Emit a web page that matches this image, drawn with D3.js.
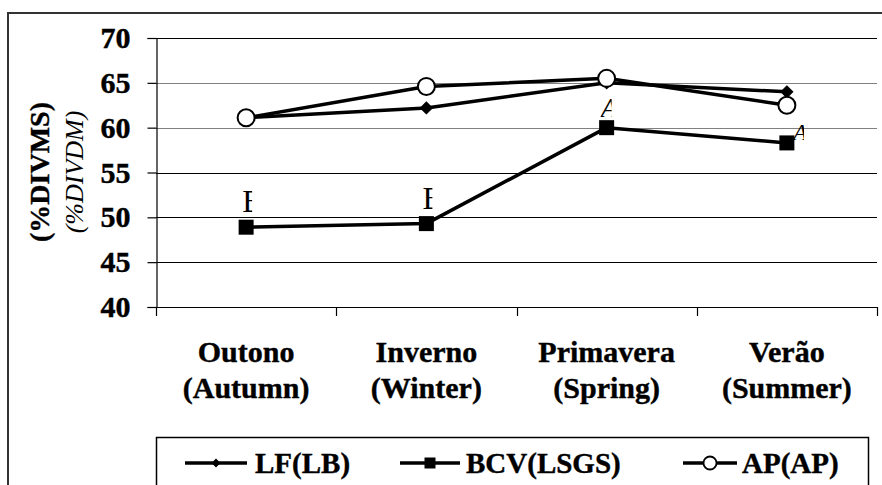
<!DOCTYPE html>
<html>
<head>
<meta charset="utf-8">
<script src="https://cdn.jsdelivr.net/npm/d3@7"></script>
<style>
html,body{margin:0;padding:0;background:#fff;}
svg{display:block;}
</style>
</head>
<body>
<svg id="chart" width="882" height="485" font-family="Liberation Serif, Times New Roman, serif"></svg>
<script>
const categories = ["Outono", "Inverno", "Primavera", "Verão"];
const categoriesEn = ["(Autumn)", "(Winter)", "(Spring)", "(Summer)"];
const lfValues = [61.1, 62.2, 65.0, 64.0];
const bcvValues = [48.9, 49.3, 60.0, 58.3];
const apValues = [61.1, 64.6, 65.5, 62.5];
const bcvLetters = ["B", "B", "A", "A"];
const yTicks = [40, 45, 50, 55, 60, 65, 70];
const seriesNames = ["LF(LB)", "BCV(LSGS)", "AP(AP)"];

const FONT = "Liberation Serif";
const svg = d3.select("#chart");
const W = 882, H = 485;
const plot = {left: 156, right: 877, top: 38, bottom: 307};

// outer frame
svg.append("rect").attr("x", 8).attr("y", 13).attr("width", W + 20).attr("height", H + 20)
  .attr("fill", "none").attr("stroke", "#333").attr("stroke-width", 2);

const x = d3.scaleBand().domain(categories).range([plot.left, plot.right]).padding(0);
const y = d3.scaleLinear().domain([40, 70]).range([plot.bottom, plot.top]);
const cx = c => x(c) + x.bandwidth() / 2;

// gridlines
svg.append("g").selectAll("line").data(yTicks.filter(t => t > 40)).join("line")
  .attr("x1", plot.left).attr("x2", plot.right)
  .attr("y1", d => Math.round(y(d)) + 0.5).attr("y2", d => Math.round(y(d)) + 0.5)
  .attr("stroke", d => (d === 65 || d === 60) ? "#808080" : "#000")
  .attr("stroke-width", 1.2);

// y axis
const yAxis = d3.axisLeft(y).tickValues(yTicks).tickSize(9).tickPadding(17).tickFormat(d3.format("d"));
const gy = svg.append("g").attr("transform", `translate(${plot.left + 0.5},0)`).call(yAxis)
  .attr("font-family", FONT);
gy.select(".domain").attr("stroke", "#000").attr("stroke-width", 1.2);
gy.selectAll(".tick line").attr("stroke", "#000").attr("stroke-width", 1.2);
gy.selectAll(".tick text").style("font-family", FONT)
  .attr("font-size", 30).attr("font-weight", "bold").attr("fill", "#000")
  .attr("stroke", "#000").attr("stroke-width", 0.4);

// x axis line and boundary ticks
const gx = svg.append("g");
gx.append("line").attr("x1", plot.left).attr("x2", plot.right)
  .attr("y1", plot.bottom + 0.5).attr("y2", plot.bottom + 0.5).attr("stroke", "#000").attr("stroke-width", 1.2);
const bounds = categories.map(c => x(c)).concat([plot.right]);
gx.selectAll("line.tk").data(bounds).join("line").attr("class", "tk")
  .attr("x1", d => Math.round(d) + 0.5).attr("x2", d => Math.round(d) + 0.5)
  .attr("y1", plot.bottom).attr("y2", plot.bottom + 9).attr("stroke", "#000").attr("stroke-width", 1.2);

// category labels
categories.forEach((c, i) => {
  const t = svg.append("text").attr("x", cx(c)).attr("text-anchor", "middle").style("font-family", FONT)
    .attr("font-size", 30).attr("font-weight", "bold").attr("fill", "#000")
    .attr("stroke", "#000").attr("stroke-width", 0.4);
  t.append("tspan").attr("x", cx(c)).attr("y", 362).text(c);
  t.append("tspan").attr("x", cx(c)).attr("y", 398).text(categoriesEn[i]);
});

// y axis titles
svg.append("text").attr("transform", "translate(49,172) rotate(-90)").style("font-family", FONT)
  .attr("text-anchor", "middle").attr("font-size", 28).attr("font-weight", "bold")
  .attr("stroke", "#000").attr("stroke-width", 0.4).text("(%DIVMS)");
svg.append("text").attr("transform", "translate(83,172) rotate(-90)").style("font-family", FONT)
  .attr("text-anchor", "middle").attr("font-size", 26).attr("font-style", "italic").text("(%DIVDM)");

// lines
const line = d3.line().x((d, i) => cx(categories[i])).y(d => y(d));
const g = svg.append("g");
[lfValues, bcvValues, apValues].forEach(vals => {
  g.append("path").datum(vals).attr("d", line).attr("fill", "none")
    .attr("stroke", "#000").attr("stroke-width", 3.5).attr("stroke-linejoin", "round");
});

// letters for BCV (partially clipped, as in reference)
const defs = svg.append("defs");
bcvLetters.forEach((l, i) => {
  const px = cx(categories[i]), py = y(bcvValues[i]);
  let tx, ty, fs, italic;
  if (l === "B") { tx = px - 4; ty = py - 15; fs = 32; italic = false; }
  else if (i === 2) { tx = px - 6; ty = py - 11; fs = 28; italic = true; }
  else { tx = px + 6; ty = py - 3; fs = 24; italic = true; }
  const id = "clip" + i;
  defs.append("clipPath").attr("id", id).append("rect")
    .attr("x", tx).attr("y", ty - fs).attr("width", l === "B" ? 10 : 11).attr("height", fs + 4);
  svg.append("text").attr("x", tx).attr("y", ty).attr("font-size", fs).style("font-family", FONT)
    .attr("font-style", italic ? "italic" : "normal").attr("clip-path", `url(#${id})`)
    .attr("fill", "#000").text(l);
});

// markers
g.selectAll("path.lf").data(lfValues).join("path").attr("class", "lf")
  .attr("d", d3.symbol().type(d3.symbolSquare2).size(90)())
  .attr("transform", (d, i) => `translate(${cx(categories[i])},${y(d)}) rotate(45)`)
  .attr("fill", "#000").attr("stroke", "#000").attr("stroke-width", 1);
g.selectAll("rect.bcv").data(bcvValues).join("rect").attr("class", "bcv")
  .attr("x", (d, i) => cx(categories[i]) - 7.5).attr("y", d => y(d) - 7.5)
  .attr("width", 15).attr("height", 15).attr("fill", "#000");
g.selectAll("circle.ap").data(apValues).join("circle").attr("class", "ap")
  .attr("cx", (d, i) => cx(categories[i])).attr("cy", d => y(d)).attr("r", 8.5)
  .attr("fill", "#fff").attr("stroke", "#000").attr("stroke-width", 2);

// legend
svg.append("rect").attr("x", 156.5).attr("y", 437.5).attr("width", 712).attr("height", 80)
  .attr("fill", "#fff").attr("stroke", "#000").attr("stroke-width", 1.5);
const legY = 463;
const legItems = [
  {x0: 185, x1: 247, tx: 255, sym: "diamond"},
  {x0: 400, x1: 460, tx: 466, sym: "square"},
  {x0: 683, x1: 737, tx: 742, sym: "circle"}
];
legItems.forEach((it, i) => {
  const lg = svg.append("g");
  lg.append("line").attr("x1", it.x0).attr("x2", it.x1).attr("y1", legY).attr("y2", legY)
    .attr("stroke", "#000").attr("stroke-width", 3.5);
  const mx = (it.x0 + it.x1) / 2;
  if (it.sym === "diamond") {
    lg.append("path").attr("d", d3.symbol().type(d3.symbolSquare2).size(50)())
      .attr("transform", `translate(${mx},${legY}) rotate(45)`).attr("fill", "#000");
  } else if (it.sym === "square") {
    lg.append("rect").attr("x", mx - 5.5).attr("y", legY - 5.5).attr("width", 11).attr("height", 11).attr("fill", "#000");
  } else {
    lg.append("circle").attr("cx", mx).attr("cy", legY).attr("r", 6.5).attr("fill", "#fff")
      .attr("stroke", "#000").attr("stroke-width", 1.8);
  }
  lg.append("text").attr("x", it.tx).attr("y", legY + 10).attr("font-size", 29).style("font-family", FONT)
    .attr("font-weight", "bold").attr("fill", "#000").attr("stroke", "#000").attr("stroke-width", 0.4)
    .text(seriesNames[i]);
});
</script>
</body>
</html>
